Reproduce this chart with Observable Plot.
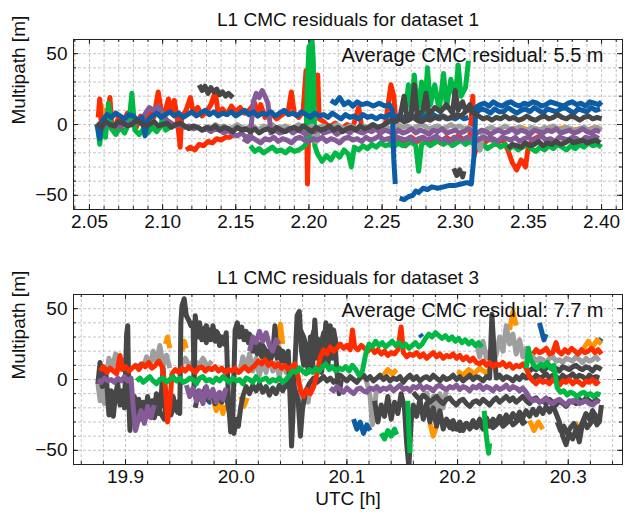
<!DOCTYPE html>
<html>
<head>
<meta charset="utf-8">
<script src="https://cdn.jsdelivr.net/npm/d3@7"></script>
<script src="https://cdn.jsdelivr.net/npm/@observablehq/plot@0.6"></script>
<style>
  html, body { margin: 0; padding: 0; background: white; }
  svg { display: block; }
</style>
</head>
<body>
<div id="chart"></div>
<script>
// ---------- Panel titles / labels ----------
const titles = ["L1 CMC residuals for dataset 1", "L1 CMC residuals for dataset 3"];
const notes = ["Average CMC residual: 5.5 m", "Average CMC residual: 7.7 m"];
const yLabel = "Multipath [m]";
const xLabel = "UTC [h]";
const ds1XTicks = [2.05, 2.10, 2.15, 2.20, 2.25, 2.30, 2.35, 2.40];
const ds3XTicks = [19.9, 20.0, 20.1, 20.2, 20.3];
const yTicks = [-50, 0, 50];

// ---------- Dataset 1 series [UTC h, multipath m] (null = gap) ----------
const ds1Orange = [[2.057,6],[2.058,14],[2.059,8],[2.06,12],[2.061,null],[2.34,-3],[2.345,-2],[2.35,-4],[2.355,-3],[2.36,-4],[2.365,-2],[2.37,-3],[2.375,-2],[2.38,-4],[2.385,-3],[2.39,-4],[2.395,-2],[2.399,-3]];
const ds1RedLow = [[2.116,-18],[2.119,-16],[2.122,-18],[2.125,-14],[2.128,-15],[2.131,-12],[2.134,-13],[2.137,-10],[2.14,-11],[2.143,-9],[2.146,-9],[2.149,-7],[2.151,null],[2.255,-8],[2.258,-13],[2.262,-10],[2.266,-15],[2.27,-9],[2.274,-12],[2.278,-9],[2.282,-14],[2.286,-10],[2.29,-13],[2.294,-9],[2.298,-12],[2.302,-8],[2.306,-11],[2.31,-9],[2.312,20],[2.313,-22],[2.316,-10],[2.32,-13],[2.324,-9],[2.328,-14],[2.332,-10],[2.336,-18],[2.339,-27],[2.342,-32],[2.345,-25],[2.348,-30],[2.35,-15],[2.354,-10],[2.358,-8]];
const ds1Red = [[2.056,5],[2.057,18],[2.058,2],[2.06,-8],[2.062,4],[2.064,19],[2.065,3],[2.067,-5],[2.07,6],[2.073,2],[2.076,8],[2.079,4],[2.082,-2],[2.085,6],[2.088,3],[2.091,8],[2.094,5],[2.097,23],[2.099,10],[2.101,6],[2.104,18],[2.106,9],[2.108,17],[2.11,4],[2.112,-16],[2.113,5],[2.116,10],[2.119,19],[2.121,8],[2.124,12],[2.127,6],[2.13,9],[2.133,14],[2.136,23],[2.138,8],[2.141,11],[2.144,7],[2.147,13],[2.15,9],[2.153,12],[2.156,8],[2.159,10],[2.163,15],[2.165,6],[2.167,14],[2.17,5],[2.174,8],[2.178,4],[2.182,7],[2.186,10],[2.188,23],[2.19,8],[2.193,5],[2.196,9],[2.198,38],[2.199,-42],[2.2,6],[2.203,10],[2.206,35],[2.207,4],[2.21,2],[2.214,-2],[2.218,1],[2.222,-3],[2.226,0],[2.23,-2],[2.234,12],[2.236,-1],[2.24,-4],[2.244,-1],[2.248,-5],[2.252,-2],[2.256,28],[2.258,20],[2.26,-6]];
const ds1GreenHigh = [[2.056,-5],[2.057,-14],[2.059,2],[2.061,-9],[2.063,15],[2.065,-3],[2.068,-7],[2.071,-2],[2.074,-6],[2.077,1],[2.079,22],[2.081,-4],[2.084,-7],[2.087,-3],[2.09,-6],[2.093,-2],[2.096,-5],[2.099,-1],[2.1,8],[2.102,-4],[2.105,-2],[2.107,null],[2.266,10],[2.268,28],[2.27,10],[2.272,35],[2.274,12],[2.275,12],[2.277,30],[2.279,8],[2.281,40],[2.283,14],[2.286,28],[2.289,10],[2.292,36],[2.294,12],[2.297,32],[2.3,18],[2.302,42],[2.304,20],[2.307,26],[2.309,45],[2.311,null]];
const ds1Green = [[2.16,-15],[2.163,-19],[2.166,-17],[2.169,-20],[2.172,-18],[2.175,-16],[2.178,-19],[2.181,-18],[2.184,-20],[2.187,-17],[2.19,-19],[2.193,-18],[2.196,-16],[2.198,-14],[2.199,30],[2.2,55],[2.201,-10],[2.202,62],[2.203,45],[2.204,-15],[2.206,-21],[2.209,-26],[2.212,-22],[2.215,-25],[2.218,-20],[2.221,-23],[2.224,-18],[2.227,-21],[2.229,-30],[2.231,-16],[2.234,-18],[2.237,-15],[2.24,-17],[2.243,-14],[2.246,-16],[2.249,-13],[2.252,-15],[2.255,-14],[2.258,-16],[2.261,-13],[2.264,-15],[2.267,-14],[2.27,-12],[2.273,-15],[2.275,-33],[2.277,-14],[2.28,-12],[2.283,-15],[2.286,-13],[2.289,-11],[2.292,-14],[2.295,-12],[2.298,-15],[2.301,-13],[2.304,-11],[2.307,-14],[2.31,-12],[2.313,-14],[2.316,-16],[2.319,-14],[2.322,-17],[2.325,-15],[2.328,-13],[2.331,-16],[2.334,-14],[2.337,-17],[2.34,-15],[2.343,-18],[2.346,-16],[2.349,-14],[2.352,-17],[2.355,-19],[2.358,-16],[2.361,-18],[2.364,-15],[2.367,-17],[2.37,-14],[2.373,-16],[2.376,-18],[2.379,-15],[2.382,-17],[2.385,-14],[2.388,-16],[2.391,-13],[2.394,-15],[2.397,-14],[2.4,-16]];
const ds1LightGray = [[2.13,-1],[2.133,-3],[2.136,0],[2.139,-2],[2.142,-1],[2.145,-3],[2.148,-2],[2.151,0],[2.154,-2],[2.157,-3],[2.16,-1],[2.163,-2],[2.166,-4],[2.169,-1],[2.172,-2],[2.175,0],[2.178,-3],[2.181,-2],[2.184,-1],[2.187,-3],[2.19,-2],[2.193,0],[2.196,-2],[2.199,-3],[2.202,-1],[2.205,-12],[2.207,-2],[2.21,-1],[2.213,-3],[2.216,-2],[2.219,0],[2.222,-2],[2.225,-3],[2.228,-1],[2.231,-2],[2.234,-4],[2.237,-1],[2.24,-2],[2.243,0],[2.246,-3],[2.249,-2],[2.252,-1],[2.255,-3],[2.258,-2],[2.261,0],[2.264,-2],[2.267,-1],[2.27,-3],[2.273,-2],[2.276,0],[2.279,-1],[2.282,-3],[2.285,-2],[2.288,-1],[2.291,-3],[2.294,-2],[2.297,0],[2.3,-2],[2.303,-1],[2.306,-3],[2.309,-2],[2.312,-4],[2.315,-10],[2.317,-18],[2.319,-5],[2.322,-3],[2.325,-2],[2.328,-4],[2.331,-3],[2.334,-1],[2.337,-3],[2.34,-4],[2.343,-2],[2.346,-3],[2.349,-5],[2.352,-2],[2.355,-3],[2.358,-4],[2.361,-2],[2.364,-3],[2.367,-1],[2.37,-3],[2.373,-4],[2.376,-2],[2.379,-3],[2.382,-5],[2.385,-3],[2.388,-2],[2.391,-4],[2.394,-3],[2.397,-2],[2.4,-4]];
const ds1PurpleLow = [[2.155,-10],[2.158,-12],[2.161,-9],[2.164,-11],[2.167,-13],[2.17,-10],[2.173,-11],[2.176,-9],[2.179,-12],[2.182,-10],[2.185,-11],[2.188,-13],[2.191,-10],[2.194,-9],[2.197,-11],[2.2,-12],[2.203,-10],[2.206,-11],[2.209,-9],[2.212,-12],[2.215,-10],[2.218,-11],[2.221,-13],[2.224,-10],[2.227,-9],[2.23,-11],[2.233,-10],[2.236,-12],[2.239,-9],[2.242,-11],[2.245,-10],[2.248,-8],[2.251,-11],[2.254,-10],[2.257,-12],[2.26,-9],[2.263,-10],[2.266,-11],[2.269,-9],[2.272,-12],[2.275,-10],[2.278,-9],[2.281,-11],[2.284,-10],[2.287,-8],[2.29,-11],[2.293,-10],[2.296,-12],[2.299,-9],[2.302,-10],[2.305,-11],[2.308,-9],[2.311,-10],[2.314,-12],[2.317,-10],[2.32,-9],[2.323,-11],[2.326,-10],[2.329,-12],[2.332,-9],[2.335,-10],[2.338,-11],[2.341,-9],[2.344,-12],[2.347,-10],[2.35,-9],[2.353,-11],[2.356,-10],[2.359,-8],[2.362,-11],[2.365,-10],[2.368,-12],[2.371,-9],[2.374,-10],[2.377,-11],[2.38,-9],[2.383,-10],[2.386,-12],[2.389,-9],[2.392,-10],[2.395,-8],[2.398,-10]];
const ds1Purple = [[2.056,0],[2.059,-2],[2.062,1],[2.065,-1],[2.068,0],[2.071,-2],[2.074,1],[2.077,0],[2.08,2],[2.083,1],[2.086,4],[2.089,9],[2.091,12],[2.094,10],[2.097,13],[2.1,7],[2.103,3],[2.106,1],[2.109,-1],[2.112,0],[2.115,-2],[2.118,-1],[2.121,-3],[2.124,-2],[2.127,-4],[2.13,-3],[2.133,-5],[2.136,-3],[2.139,-4],[2.142,-6],[2.145,-4],[2.148,-7],[2.151,-8],[2.154,-6],[2.157,-9],[2.16,-8],[2.162,16],[2.164,22],[2.166,19],[2.168,24],[2.17,20],[2.172,15],[2.174,-6],[2.177,-4],[2.18,-6],[2.183,-5],[2.186,-3],[2.189,-6],[2.192,-4],[2.195,-5],[2.198,-7],[2.201,-4],[2.204,-5],[2.207,-3],[2.21,-6],[2.213,-5],[2.216,-4],[2.219,-7],[2.222,-5],[2.225,-4],[2.228,-6],[2.231,-3],[2.234,-5],[2.237,-6],[2.24,-4],[2.243,-5],[2.246,-3],[2.249,-6],[2.252,-4],[2.255,-5],[2.258,-7],[2.261,-4],[2.264,-6],[2.267,-5],[2.27,-3],[2.273,-6],[2.276,-4],[2.279,-5],[2.282,-7],[2.285,-4],[2.288,-5],[2.291,-3],[2.294,-6],[2.297,-5],[2.3,-4],[2.303,-6],[2.306,-5],[2.309,-3],[2.312,-5],[2.315,-6],[2.318,-4],[2.321,-5],[2.324,-7],[2.327,-5],[2.33,-4],[2.333,-6],[2.336,-5],[2.339,-3],[2.342,-6],[2.345,-4],[2.348,-5],[2.351,-7],[2.354,-4],[2.357,-5],[2.36,-6],[2.363,-4],[2.366,-5],[2.369,-3],[2.372,-6],[2.375,-5],[2.378,-4],[2.381,-6],[2.384,-5],[2.387,-3],[2.39,-5],[2.393,-6],[2.396,-4],[2.399,-5]];
const ds1Blue = [[2.055,0],[2.057,-10],[2.059,3],[2.062,7],[2.065,5],[2.068,8],[2.071,6],[2.074,4],[2.077,7],[2.08,6],[2.083,3],[2.086,5],[2.088,-8],[2.09,3],[2.093,6],[2.096,8],[2.099,5],[2.102,7],[2.105,9],[2.108,6],[2.111,8],[2.114,5],[2.117,7],[2.12,9],[2.123,6],[2.126,8],[2.129,10],[2.132,7],[2.135,9],[2.138,6],[2.141,8],[2.144,7],[2.147,9],[2.15,6],[2.153,8],[2.156,10],[2.159,7],[2.162,9],[2.165,6],[2.168,8],[2.171,7],[2.174,9],[2.177,6],[2.18,8],[2.183,10],[2.186,7],[2.189,8],[2.192,6],[2.195,9],[2.198,7],[2.201,5],[2.204,8],[2.207,6],[2.21,7],[2.213,5],[2.216,8],[2.219,6],[2.222,4],[2.225,7],[2.228,5],[2.231,6],[2.234,4],[2.237,7],[2.24,5],[2.243,6],[2.246,4],[2.249,6],[2.252,5],[2.255,7],[2.258,5],[2.261,6],[2.264,4],[2.267,7],[2.27,5],[2.273,6],[2.276,4],[2.279,6],[2.282,5],[2.285,7],[2.288,5],[2.291,6],[2.294,4],[2.297,5],[2.3,4],[2.303,6],[2.306,4],[2.309,5],[2.312,null],[2.315,9],[2.318,11],[2.321,10],[2.324,8],[2.327,11],[2.33,9],[2.333,9],[2.336,12],[2.339,10],[2.342,8],[2.345,10],[2.348,11],[2.351,9],[2.354,12],[2.357,10],[2.36,8],[2.363,11],[2.366,10],[2.369,9],[2.372,11],[2.375,12],[2.378,10],[2.381,8],[2.384,11],[2.387,10],[2.39,9],[2.393,12],[2.396,10],[2.399,11]];
const ds1BlueDip = [[2.215,17],[2.218,15],[2.221,19],[2.224,14],[2.227,16],[2.23,13],[2.233,16],[2.236,14],[2.24,15],[2.244,13],[2.248,15],[2.252,13],[2.255,14],[2.257,10],[2.258,-25],[2.259,-42],[2.26,null],[2.262,-52],[2.265,-53],[2.268,-51],[2.271,-50],[2.273,-47],[2.275,-48],[2.278,-45],[2.281,-46],[2.284,-44],[2.288,-45],[2.292,-44],[2.296,-43],[2.3,-43],[2.304,-42],[2.308,-41],[2.311,-42],[2.313,-20],[2.314,12],[2.317,14],[2.32,15],[2.323,13],[2.326,16],[2.329,14],[2.332,13],[2.335,15],[2.338,16],[2.341,14],[2.344,13],[2.347,15],[2.35,14],[2.353,16],[2.356,15],[2.359,13],[2.362,14],[2.365,16],[2.368,15],[2.371,14],[2.374,13],[2.377,15],[2.38,16],[2.383,14],[2.386,15],[2.389,13],[2.392,16],[2.395,15],[2.398,14],[2.4,16]];
const ds1Dark = [[2.055,1],[2.058,-2],[2.061,2],[2.064,0],[2.067,-1],[2.07,2],[2.073,1],[2.076,-1],[2.079,0],[2.082,3],[2.085,1],[2.088,-1],[2.091,0],[2.094,2],[2.097,-1],[2.1,0],[2.103,1],[2.106,-2],[2.109,0],[2.112,1],[2.115,-1],[2.118,-3],[2.121,-1],[2.124,-2],[2.127,-4],[2.13,-2],[2.133,-3],[2.136,-1],[2.139,-4],[2.142,-2],[2.145,-3],[2.148,-5],[2.151,-2],[2.154,-4],[2.157,-3],[2.16,-5],[2.163,-3],[2.166,-6],[2.169,-4],[2.172,-3],[2.175,-5],[2.178,-2],[2.181,-4],[2.184,-5],[2.187,-3],[2.19,-2],[2.193,-4],[2.196,-1],[2.199,-3],[2.202,-5],[2.205,-2],[2.208,-4],[2.211,-3],[2.214,-1],[2.217,-4],[2.22,-2],[2.223,-5],[2.226,-3],[2.229,-2],[2.232,-4],[2.235,-1],[2.238,-3],[2.241,-2],[2.244,0],[2.247,-2],[2.25,-1],[2.253,1],[2.256,3],[2.259,2],[2.262,4],[2.265,2],[2.268,3],[2.271,5],[2.274,3],[2.277,2],[2.28,4],[2.283,3],[2.286,5],[2.289,4],[2.292,6],[2.295,4],[2.298,5],[2.301,7],[2.304,6],[2.307,9],[2.31,11],[2.313,8],[2.316,6],[2.319,4],[2.322,5],[2.325,3],[2.328,5],[2.331,4],[2.334,6],[2.337,4],[2.34,5],[2.343,3],[2.346,4],[2.349,6],[2.352,4],[2.355,3],[2.358,5],[2.361,6],[2.364,4],[2.367,5],[2.37,7],[2.373,5],[2.376,4],[2.379,6],[2.382,5],[2.385,3],[2.388,5],[2.391,6],[2.394,4],[2.397,5],[2.4,4]];
const ds1DarkHigh = [[2.125,28],[2.127,24],[2.129,27],[2.131,22],[2.133,26],[2.135,23],[2.137,25],[2.139,21],[2.141,23],[2.143,20],[2.145,22],[2.148,19],[2.149,null],[2.262,4],[2.265,20],[2.267,5],[2.27,8],[2.272,28],[2.274,6],[2.278,10],[2.28,22],[2.282,7],[2.286,12],[2.29,9],[2.294,14],[2.298,8],[2.3,24],[2.302,10],[2.305,16],[2.307,10],[2.31,14],[2.312,7]];
const ds1DarkLow = [[2.299,-31],[2.301,-36],[2.303,-32],[2.305,-37],[2.306,-33],[2.307,null],[2.336,-17],[2.339,-14],[2.342,-15],[2.345,-16],[2.348,-13],[2.351,-15],[2.354,-14],[2.357,-12],[2.36,-15],[2.363,-13],[2.366,-14],[2.369,-12],[2.372,-14],[2.375,-13],[2.378,-11],[2.381,-13],[2.384,-12],[2.387,-11],[2.39,-13],[2.393,-12],[2.396,-11],[2.399,-13]];

// ---------- Dataset 3 series ----------
const ds3Blue = [[19.911,11],[19.913,8],[19.915,12],[19.916,null],[19.972,-12],[19.976,-16],[19.98,-13],[19.981,null],[20.106,-28],[20.109,-35],[20.112,-30],[20.115,-38],[20.118,-32],[20.121,-36],[20.122,null],[20.122,-25],[20.124,-30],[20.125,null],[20.166,32],[20.168,30],[20.169,null],[20.274,40],[20.276,34],[20.278,28],[20.28,32],[20.281,null],[20.328,27],[20.33,29]];
const ds3Orange = [[19.875,-5],[19.877,-8],[19.879,-4],[19.88,null],[19.936,25],[19.938,30],[19.94,22],[19.941,null],[19.951,20],[19.953,27],[19.955,22],[19.956,null],[19.979,-14],[19.982,-22],[19.985,-16],[19.988,-24],[19.99,-18],[19.991,null],[20.004,-12],[20.007,-19],[20.01,-13],[20.011,null],[20.037,20],[20.04,39],[20.042,25],[20.043,null],[20.133,3],[20.137,7],[20.141,4],[20.145,7],[20.146,null],[20.175,-31],[20.178,-40],[20.181,-33],[20.182,null],[20.2,6],[20.205,3],[20.21,7],[20.215,4],[20.22,8],[20.225,5],[20.23,7],[20.231,null],[20.247,35],[20.25,48],[20.253,38],[20.254,null],[20.265,-29],[20.269,-36],[20.273,-30],[20.277,-35],[20.279,null],[20.306,-30],[20.31,-36],[20.314,-31],[20.315,null],[20.314,22],[20.318,27],[20.322,23],[20.326,28],[20.33,25]];
const ds3LightGray = [[19.875,-2],[19.877,-15],[19.879,-5],[19.881,-17],[19.883,3],[19.885,15],[19.888,8],[19.891,18],[19.894,7],[19.897,14],[19.9,6],[19.902,null],[19.916,8],[19.919,16],[19.922,9],[19.925,20],[19.928,12],[19.931,24],[19.934,10],[19.937,17],[19.94,8],[19.943,null],[19.95,10],[19.954,15],[19.958,9],[19.962,14],[19.966,10],[19.97,15],[19.974,9],[19.978,13],[19.98,null],[20.003,4],[20.006,16],[20.009,8],[20.012,18],[20.015,6],[20.018,15],[20.021,3],[20.024,14],[20.027,5],[20.03,17],[20.033,6],[20.036,12],[20.039,2],[20.042,15],[20.045,5],[20.048,10],[20.051,1],[20.053,null],[20.058,-5],[20.06,-19],[20.062,-8],[20.065,-16],[20.067,-4],[20.069,null],[20.115,4],[20.118,-2],[20.121,-12],[20.123,-32],[20.125,-20],[20.127,-5],[20.128,null],[20.172,-8],[20.175,-22],[20.178,-12],[20.181,-26],[20.184,-10],[20.187,-20],[20.19,-7],[20.191,null],[20.217,26],[20.22,16],[20.223,27],[20.226,15],[20.229,20],[20.232,12],[20.235,18],[20.238,30],[20.241,20],[20.244,38],[20.247,25],[20.25,32],[20.253,18],[20.256,28],[20.259,16],[20.262,22],[20.265,15],[20.268,16],[20.271,13],[20.274,15],[20.277,14],[20.28,12],[20.283,15],[20.286,16],[20.289,13],[20.292,14],[20.295,12],[20.298,15],[20.301,14],[20.304,13],[20.307,16],[20.31,14],[20.313,12],[20.316,15],[20.319,13],[20.322,14],[20.325,16],[20.328,13]];
const ds3Dark = [[19.875,-3],[19.877,12],[19.879,-5],[19.881,8],[19.883,-2],[19.885,-25],[19.887,-8],[19.889,-26],[19.891,-10],[19.893,-3],[19.895,-18],[19.897,-8],[19.899,-20],[19.901,32],[19.902,38],[19.903,-15],[19.904,-36],[19.906,-18],[19.908,-12],[19.91,-24],[19.912,-14],[19.914,-28],[19.916,-16],[19.918,-22],[19.92,-12],[19.922,-25],[19.924,-15],[19.926,-20],[19.928,-10],[19.93,-24],[19.932,-14],[19.934,8],[19.935,-18],[19.937,-26],[19.939,-15],[19.941,-22],[19.943,-12],[19.945,-20],[19.947,-16],[19.949,-24],[19.95,40],[19.951,52],[19.953,57],[19.955,45],[19.957,42],[19.959,38],[19.961,40],[19.962,-5],[19.963,45],[19.965,30],[19.967,40],[19.969,28],[19.971,36],[19.973,26],[19.975,35],[19.977,28],[19.979,38],[19.981,27],[19.983,33],[19.985,24],[19.987,30],[19.989,25],[19.991,33],[19.993,-15],[19.995,-37],[19.997,-25],[19.999,35],[20.001,40],[20.003,30],[20.005,37],[20.007,28],[20.009,34],[20.011,26],[20.013,30],[20.015,20],[20.017,27],[20.019,18],[20.021,25],[20.023,16],[20.025,22],[20.027,15],[20.029,20],[20.031,14],[20.033,18],[20.035,38],[20.037,15],[20.039,22],[20.041,13],[20.043,18],[20.045,12],[20.047,20],[20.049,-20],[20.05,-47],[20.051,-30],[20.053,10],[20.055,45],[20.057,48],[20.059,20],[20.061,10],[20.063,25],[20.065,5],[20.067,30],[20.069,8],[20.071,42],[20.073,15],[20.075,28],[20.077,5],[20.079,20],[20.081,40],[20.083,10],[20.085,38],[20.087,15],[20.089,30],[20.091,5],[20.093,-10],[20.095,0]];
const ds3DarkUpper = [[19.964,35],[19.967,30],[19.97,33],[19.973,38],[19.976,31],[19.979,29],[19.982,34],[19.985,30],[19.988,27],[19.991,31],[19.994,null],[20.0,36],[20.003,33],[20.006,31],[20.009,29],[20.012,32],[20.015,27],[20.018,24],[20.021,21],[20.024,24],[20.027,20],[20.03,18],[20.033,22],[20.036,19],[20.039,17],[20.042,20],[20.045,16],[20.048,null],[20.058,35],[20.061,30],[20.064,20],[20.067,24],[20.07,34],[20.073,28],[20.076,22],[20.079,33],[20.082,30],[20.085,25],[20.088,35],[20.091,22]];
const ds3DarkLeft = [[19.905,-25],[19.908,-20],[19.911,-28],[19.914,-22],[19.917,-18],[19.92,-26],[19.923,-21],[19.926,-27],[19.929,-19],[19.932,-24],[19.935,-28],[19.938,-20],[19.941,-25],[19.944,-18],[19.947,-23],[19.949,-15]];
const ds3DarkMid = [[19.963,-20],[19.966,-8],[19.969,-15],[19.972,-6],[19.975,-14],[19.978,-9],[19.981,-17],[19.984,-10],[19.987,-16],[19.99,-8],[19.993,-20],[19.996,-32],[19.998,-38],[20.0,-28],[20.002,-33],[20.004,-20],[20.006,-12],[20.009,-5],[20.012,-10],[20.015,-4],[20.018,-8],[20.021,-3],[20.024,-9],[20.027,-5],[20.03,-11],[20.033,-6],[20.036,-10],[20.039,-4],[20.042,-8],[20.045,-3],[20.048,-6],[20.052,-4],[20.056,-15],[20.058,-40],[20.06,-20],[20.063,-8],[20.066,-3],[20.07,1],[20.073,-2],[20.076,0],[20.079,2],[20.082,-1],[20.085,1],[20.088,-2],[20.091,0],[20.094,3],[20.097,1],[20.1,-1],[20.103,2],[20.106,0],[20.109,-2],[20.112,1],[20.115,3],[20.118,0],[20.121,2],[20.124,-1],[20.127,1],[20.13,3],[20.133,0],[20.136,2],[20.139,-1],[20.142,1],[20.145,0],[20.148,2],[20.151,-2],[20.154,1],[20.157,3],[20.16,0],[20.163,2],[20.166,-1],[20.169,1],[20.172,2],[20.175,0],[20.178,3],[20.181,1],[20.184,-1],[20.187,2],[20.19,0],[20.193,1],[20.196,3],[20.199,0],[20.202,2],[20.205,-1],[20.208,1],[20.211,3],[20.214,0],[20.217,2],[20.22,1],[20.223,-1],[20.226,2],[20.229,1],[20.231,46],[20.233,20],[20.235,1],[20.238,3],[20.241,0],[20.244,2],[20.247,1],[20.25,-1],[20.253,2],[20.256,0],[20.259,3],[20.262,1],[20.265,2],[20.268,0],[20.271,3],[20.274,1],[20.277,2],[20.28,4],[20.283,1],[20.286,3],[20.289,2],[20.292,0],[20.295,3],[20.298,1],[20.301,2],[20.304,4],[20.307,1],[20.31,3],[20.313,2],[20.316,0],[20.319,3],[20.322,1],[20.325,2],[20.328,1]];
const ds3DarkLow = [[20.125,-15],[20.128,-30],[20.131,-18],[20.134,-26],[20.137,-12],[20.14,-28],[20.143,-16],[20.146,-24],[20.149,-10],[20.152,-20],[20.154,-45],[20.156,-62],[20.158,-30],[20.16,-18],[20.163,-26],[20.166,-14],[20.169,-28],[20.172,-17],[20.175,-30],[20.178,-20],[20.181,-33],[20.184,-22],[20.187,-35],[20.19,-28],[20.193,-34],[20.196,-29],[20.199,-35],[20.202,-30],[20.205,-36],[20.208,-31],[20.211,-34],[20.214,-29],[20.217,-33],[20.22,-28],[20.223,-32],[20.226,-27],[20.229,-33],[20.232,-28],[20.235,-31],[20.238,-26],[20.241,-30],[20.244,-25],[20.247,-29],[20.25,-24],[20.253,-28],[20.256,-23],[20.259,-27],[20.262,-22],[20.265,-26],[20.268,-21],[20.271,-25],[20.274,-20],[20.277,-24],[20.28,-19],[20.283,-23],[20.286,-18],[20.289,-24],[20.292,-30],[20.295,-40],[20.298,-46],[20.301,-38],[20.304,-42],[20.307,-35],[20.31,-44],[20.313,-30],[20.316,-24],[20.319,-28],[20.322,-22],[20.325,-26],[20.328,-30],[20.33,-18]];
const ds3DarkLow2 = [[20.19,-33],[20.193,-30],[20.196,-35],[20.199,-32],[20.202,-36],[20.205,-33],[20.208,-31],[20.211,-35],[20.214,-32],[20.217,-34],[20.22,-31],[20.223,-35],[20.226,-33],[20.229,-30],[20.232,-34],[20.235,-32],[20.238,-29],[20.241,-33],[20.244,-31],[20.247,-28],[20.25,-32],[20.253,-30],[20.256,-27],[20.259,-31],[20.262,-29],[20.265,null],[20.29,-30],[20.293,-36],[20.296,-33],[20.299,-38],[20.302,-34],[20.305,-31],[20.308,-36],[20.311,-33],[20.314,-29],[20.317,-34],[20.32,-31],[20.323,-27],[20.326,-32],[20.329,-28]];
const ds3DarkBand = [[20.16,-9],[20.163,-12],[20.166,-14],[20.169,-11],[20.172,-13],[20.175,-16],[20.178,-14],[20.181,-12],[20.184,-15],[20.187,-17],[20.19,-14],[20.193,-13],[20.196,-16],[20.199,-18],[20.202,-15],[20.205,-14],[20.208,-17],[20.211,-19],[20.214,-16],[20.217,-15],[20.22,-17],[20.223,-14],[20.226,-16],[20.229,-18],[20.232,-15],[20.235,-13],[20.238,-16],[20.241,-14],[20.244,-12],[20.247,-15],[20.25,-13],[20.253,-16],[20.256,-14],[20.259,-12],[20.262,-15],[20.265,-17],[20.268,-14],[20.271,-13],[20.274,-16],[20.277,-15],[20.28,-17],[20.283,-14],[20.286,-16],[20.289,-18],[20.292,-15],[20.295,-17],[20.298,-19],[20.301,-16],[20.304,-15],[20.307,-17],[20.31,-14],[20.313,-16],[20.316,-13],[20.319,-15],[20.322,-17],[20.325,-14],[20.328,-16],[20.331,null],[20.265,6],[20.268,8],[20.271,7],[20.274,9],[20.277,6],[20.28,8],[20.283,10],[20.286,7],[20.289,8],[20.292,6],[20.295,9],[20.298,8],[20.301,7],[20.304,9],[20.307,10],[20.31,8],[20.313,7],[20.316,9],[20.319,8],[20.322,6],[20.325,9],[20.328,8],[20.33,7]];
const ds3Red = [[19.877,6],[19.88,9],[19.883,5],[19.886,8],[19.889,6],[19.892,4],[19.895,17],[19.897,7],[19.9,9],[19.903,6],[19.906,8],[19.909,10],[19.912,7],[19.915,11],[19.918,9],[19.921,12],[19.924,8],[19.927,10],[19.93,13],[19.933,9],[19.936,-5],[19.938,-30],[19.94,-18],[19.942,4],[19.945,7],[19.948,5],[19.951,8],[19.954,6],[19.957,9],[19.96,7],[19.963,5],[19.966,8],[19.969,9],[19.972,6],[19.975,8],[19.978,7],[19.981,9],[19.984,6],[19.987,8],[19.99,5],[19.993,7],[19.996,6],[19.999,8],[20.002,5],[20.005,7],[20.008,9],[20.011,6],[20.014,8],[20.017,10],[20.02,13],[20.023,11],[20.026,14],[20.029,10],[20.032,12],[20.035,9],[20.038,11],[20.041,8],[20.044,10],[20.047,7],[20.05,9],[20.053,11],[20.056,2],[20.058,-8],[20.061,-12],[20.064,-7],[20.067,-10],[20.07,-5],[20.073,4],[20.076,16],[20.079,21],[20.082,18],[20.085,23],[20.088,20],[20.091,22],[20.094,25],[20.097,22],[20.1,24],[20.103,21],[20.105,35],[20.107,23],[20.11,21],[20.113,24],[20.116,22],[20.119,20],[20.122,23],[20.125,19],[20.128,21],[20.131,18],[20.134,20],[20.137,17],[20.14,19],[20.143,18],[20.146,21],[20.149,37],[20.151,19],[20.154,16],[20.157,18],[20.16,17],[20.163,19],[20.166,16],[20.169,18],[20.172,15],[20.175,17],[20.178,19],[20.181,16],[20.184,18],[20.187,15],[20.19,17],[20.193,16],[20.196,18],[20.199,15],[20.202,17],[20.205,14],[20.208,16],[20.211,13],[20.214,15],[20.217,12],[20.22,11],[20.223,13],[20.226,10],[20.229,12],[20.232,9],[20.235,11],[20.238,10],[20.241,12],[20.244,9],[20.247,11],[20.25,8],[20.253,10],[20.256,9],[20.259,11],[20.262,8],[20.265,2],[20.268,-1],[20.271,-3],[20.274,0],[20.277,-2],[20.28,-1],[20.283,-3],[20.286,0],[20.289,-2],[20.292,-4],[20.295,-1],[20.298,-2],[20.301,0],[20.304,-3],[20.307,-1],[20.31,-2],[20.313,-4],[20.316,-1],[20.319,-2],[20.322,0],[20.325,-3],[20.328,-1]];
const ds3RedHigh = [[20.268,18],[20.271,21],[20.274,19],[20.277,20],[20.28,22],[20.283,18],[20.286,19],[20.289,26],[20.291,20],[20.294,18],[20.297,21],[20.3,19],[20.303,22],[20.306,20],[20.309,18],[20.312,21],[20.315,19],[20.318,20],[20.321,22],[20.324,19],[20.327,21],[20.33,18]];
const ds3Purple = [[19.875,0],[19.878,-2],[19.881,1],[19.884,-1],[19.887,0],[19.89,-2],[19.893,1],[19.896,-1],[19.899,2],[19.902,-1],[19.905,1],[19.907,-20],[19.909,-36],[19.911,-30],[19.914,-22],[19.917,-31],[19.92,-19],[19.923,-27],[19.926,-18],[19.928,null],[19.955,-4],[19.958,-12],[19.961,-6],[19.964,-15],[19.967,-8],[19.97,-17],[19.973,-5],[19.976,-13],[19.979,-7],[19.982,-16],[19.985,-9],[19.988,-14],[19.991,-6],[19.993,null],[20.012,20],[20.015,30],[20.018,26],[20.021,34],[20.024,27],[20.027,33],[20.03,24],[20.033,20],[20.036,28],[20.039,25],[20.04,null],[20.085,-6],[20.088,-8],[20.091,-5],[20.094,-7],[20.097,-9],[20.1,-6],[20.103,-8],[20.106,-10],[20.109,-7],[20.112,-6],[20.115,-8],[20.118,-9],[20.121,-6],[20.124,-7],[20.127,-5],[20.13,-8],[20.133,-6],[20.136,-7],[20.139,-5],[20.142,-8],[20.145,-6],[20.148,-4],[20.151,-7],[20.154,-6],[20.157,-8],[20.16,-5],[20.163,-6],[20.166,-4],[20.169,-7],[20.172,-5],[20.175,-6],[20.178,-8],[20.181,-5],[20.184,-4],[20.187,-6],[20.19,-7],[20.193,-5],[20.196,-6],[20.199,-4],[20.202,-7],[20.205,-5],[20.208,-6],[20.211,-8],[20.214,-5],[20.217,-6],[20.22,-4],[20.223,-7],[20.226,-5],[20.229,-6],[20.232,-8],[20.235,-5],[20.238,-7],[20.241,-6],[20.244,-4],[20.247,-7],[20.25,-5],[20.253,-6],[20.256,-8],[20.259,-6],[20.262,-9],[20.265,-13],[20.268,-15],[20.271,-14],[20.274,-16],[20.277,-15],[20.28,-13],[20.283,-16],[20.286,-17],[20.289,-15],[20.292,-14],[20.295,-16],[20.298,-18],[20.301,-15],[20.304,-16],[20.307,-14],[20.31,-17],[20.313,-16],[20.316,-15],[20.319,-17],[20.322,-18],[20.325,-16],[20.328,-15]];
const ds3Green = [[19.91,-1],[19.913,1],[19.916,-2],[19.919,0],[19.922,2],[19.925,-1],[19.928,-3],[19.931,0],[19.934,1],[19.937,-2],[19.94,0],[19.943,2],[19.946,-1],[19.949,1],[19.952,-2],[19.955,-1],[19.958,1],[19.961,0],[19.964,-3],[19.967,1],[19.97,2],[19.973,-1],[19.976,0],[19.979,-2],[19.982,1],[19.985,-1],[19.988,2],[19.991,0],[19.994,-2],[19.997,1],[20.0,-1],[20.003,0],[20.006,-3],[20.009,1],[20.012,0],[20.015,-2],[20.018,2],[20.021,-1],[20.024,0],[20.027,1],[20.03,-2],[20.033,0],[20.036,-1],[20.039,1],[20.042,-2],[20.045,0],[20.048,3],[20.051,6],[20.054,5],[20.057,8],[20.06,6],[20.063,4],[20.066,7],[20.069,5],[20.072,8],[20.075,6],[20.078,9],[20.081,11],[20.084,7],[20.087,9],[20.09,6],[20.093,8],[20.096,7],[20.099,9],[20.102,6],[20.105,10],[20.108,7],[20.111,3],[20.114,6],[20.117,18],[20.12,25],[20.123,23],[20.126,27],[20.129,24],[20.132,26],[20.135,23],[20.138,25],[20.141,27],[20.144,24],[20.147,26],[20.15,23],[20.153,25],[20.156,22],[20.159,24],[20.162,26],[20.165,23],[20.168,25],[20.171,29],[20.174,32],[20.177,30],[20.18,33],[20.183,31],[20.186,29],[20.189,31],[20.192,28],[20.195,30],[20.198,27],[20.201,29],[20.204,26],[20.207,28],[20.21,25],[20.213,27],[20.216,24],[20.219,26],[20.222,23]];
const ds3GreenBits = [[20.131,-38],[20.134,-42],[20.137,-36],[20.14,-40],[20.143,-35],[20.145,-39],[20.146,null],[20.155,-15],[20.156,-35],[20.157,-52],[20.158,null],[20.224,-22],[20.226,-40],[20.228,-52],[20.229,-45],[20.23,null],[20.262,8],[20.264,22],[20.266,14],[20.269,10],[20.272,8],[20.275,11],[20.278,9],[20.281,12],[20.284,8],[20.287,10],[20.29,-6],[20.293,-9],[20.296,-8],[20.299,-11],[20.302,-9],[20.305,-10],[20.308,-12],[20.311,-10],[20.314,-9],[20.317,-11],[20.32,-10],[20.323,-12],[20.326,-10],[20.329,-11]];

// ---------- Colors (SciencePlots cycle) ----------
const cBlue = "#0C5DA5", cGreen = "#00B945", cOrange = "#FF9500", cRed = "#FF2C00",
      cPurple = "#845B97", cDark = "#474747", cLight = "#9e9e9e";

const ds1Series = [
  [ds1Orange, cOrange], [ds1RedLow, cRed], [ds1Red, cRed], [ds1GreenHigh, cGreen], [ds1Green, cGreen],
  [ds1LightGray, cLight], [ds1PurpleLow, cPurple], [ds1Purple, cPurple], [ds1Blue, cBlue], [ds1BlueDip, cBlue],
  [ds1Dark, cDark], [ds1DarkHigh, cDark], [ds1DarkLow, cDark]
];
const ds3Series = [
  [ds3Blue, cBlue], [ds3Orange, cOrange], [ds3LightGray, cLight], [ds3Dark, cDark], [ds3DarkUpper, cDark],
  [ds3DarkLeft, cDark], [ds3DarkMid, cDark], [ds3DarkLow, cDark], [ds3DarkLow2, cDark], [ds3DarkBand, cDark],
  [ds3Red, cRed], [ds3RedHigh, cRed], [ds3Purple, cPurple], [ds3Green, cGreen], [ds3GreenBits, cGreen]
];

const FONT = "'Liberation Sans', Arial, Helvetica, sans-serif";
const W = 625, ML = 73, MR = 3;

function panel({series, xDomain, xTicks, xMinor, fmt, title, note, height, mt, mb, withXLabel, titleDy}) {
  const fh = height - mt - mb, fw = W - ML - MR;
  const yMinor = d3.range(-60, 61, 10);
  const marks = [
    Plot.gridX(xMinor, {stroke: "#b5b5b5", strokeOpacity: 1, strokeWidth: 0.8, strokeDasharray: "3,2"}),
    Plot.gridY(yMinor, {stroke: "#b5b5b5", strokeOpacity: 1, strokeWidth: 0.8, strokeDasharray: "3,2"}),
    ...series.map(([arr, color]) => Plot.line(arr.map(([t, v]) => ({t, v})), {
      x: "t", y: "v", stroke: color, strokeWidth: 5, strokeLinejoin: "round", strokeLinecap: "butt", clip: true
    })),
    // inward ticks on all four sides
    Plot.tickX(xMinor, {x: d => d, stroke: "#222", insetTop: fh - 3}),
    Plot.tickX(xMinor, {x: d => d, stroke: "#222", insetBottom: fh - 3}),
    Plot.tickX(xTicks, {x: d => d, stroke: "#222", insetTop: fh - 5}),
    Plot.tickX(xTicks, {x: d => d, stroke: "#222", insetBottom: fh - 5}),
    Plot.tickY(yMinor, {y: d => d, stroke: "#222", insetRight: fw - 3}),
    Plot.tickY(yMinor, {y: d => d, stroke: "#222", insetLeft: fw - 3}),
    Plot.tickY(yTicks, {y: d => d, stroke: "#222", insetRight: fw - 5}),
    Plot.tickY(yTicks, {y: d => d, stroke: "#222", insetLeft: fw - 5}),
    Plot.frame({stroke: "#222", strokeWidth: 1}),
    Plot.axisX({ticks: xTicks, tickSize: 0, tickPadding: 5, tickFormat: fmt, label: null}),
    Plot.axisY({ticks: yTicks, tickSize: 0, tickPadding: 6, tickFormat: d => d < 0 ? "\u2212" + Math.abs(d) : String(d), label: null}),
    Plot.text([yLabel], {text: d => d, frameAnchor: "left", dx: -55, rotate: -90}),
    Plot.text([title], {text: d => d, frameAnchor: "top", dy: titleDy}),
    Plot.text([note], {text: d => d, frameAnchor: "top-right", dx: -19, dy: 8, textAnchor: "end", fontSize: 20})
  ];
  if (withXLabel) marks.push(Plot.text([xLabel], {text: d => d, frameAnchor: "bottom", dy: 40}));
  return Plot.plot({
    width: W, height,
    marginLeft: ML, marginRight: MR, marginTop: mt, marginBottom: mb,
    x: {domain: xDomain, label: null},
    y: {domain: [-60, 60], label: null},
    style: {fontFamily: FONT, fontSize: "19px", color: "#111", background: "white", overflow: "visible"},
    marks
  });
}

const topPanel = panel({
  series: ds1Series, xDomain: [2.0391, 2.4143], xTicks: ds1XTicks,
  xMinor: d3.range(2.04, 2.4145, 0.01).map(d => +d.toFixed(2)), fmt: d => d.toFixed(2),
  title: titles[0], note: notes[0], height: 250, mt: 39, mb: 41, withXLabel: false, titleDy: -27
});
const bottomPanel = panel({
  series: ds3Series, xDomain: [19.853, 20.349], xTicks: ds3XTicks,
  xMinor: d3.range(19.86, 20.345, 0.02).map(d => +d.toFixed(2)), fmt: d => d.toFixed(1),
  title: titles[1], note: notes[1], height: 264, mt: 44, mb: 50, withXLabel: true, titleDy: -24
});
const root = document.getElementById("chart");
root.appendChild(topPanel);
root.appendChild(bottomPanel);
</script>
</body>
</html>
